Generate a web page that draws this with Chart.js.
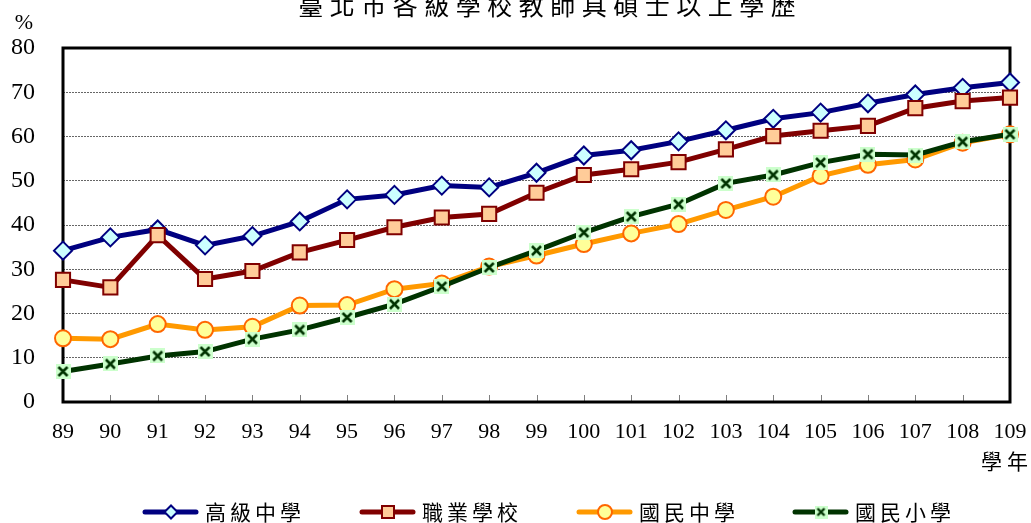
<!DOCTYPE html>
<html>
<head>
<meta charset="utf-8">
<script src="https://cdn.jsdelivr.net/npm/chart.js@4/dist/chart.umd.min.js"></script>
<style>
  html, body { margin: 0; padding: 0; background: #fff; }
  #wrap { width: 1031px; height: 523px; position: relative; }
</style>
</head>
<body>
<div id="wrap"><canvas id="c" width="1031" height="523"></canvas></div>
<script>
// 資料
const years = ['89','90','91','92','93','94','95','96','97','98','99','100','101','102','103','104','105','106','107','108','109'];
const seniorHigh = [34.2, 37.2, 39.0, 35.4, 37.5, 40.8, 45.8, 46.8, 48.9, 48.5, 51.8, 55.7, 56.9, 58.9, 61.4, 64.0, 65.4, 67.5, 69.5, 71.0, 72.2];
const vocational = [27.6, 25.9, 37.7, 27.8, 29.6, 33.8, 36.6, 39.5, 41.7, 42.5, 47.3, 51.3, 52.6, 54.2, 57.1, 60.1, 61.3, 62.4, 66.4, 68.0, 68.8];
const juniorHigh = [14.4, 14.2, 17.6, 16.3, 17.0, 21.8, 21.9, 25.5, 26.8, 30.6, 33.1, 35.7, 38.1, 40.2, 43.4, 46.4, 51.1, 53.6, 54.8, 58.6, 60.5];
const elementary = [6.9, 8.6, 10.4, 11.4, 14.2, 16.3, 19.1, 22.1, 26.1, 30.4, 34.2, 38.3, 41.9, 44.7, 49.4, 51.3, 54.1, 56.0, 55.8, 58.8, 60.5];
const seriesNames = ['高級中學', '職業學校', '國民中學', '國民小學'];
const yTicks = [0, 10, 20, 30, 40, 50, 60, 70, 80];

const titleText = '臺北市各級學校教師具碩士以上學歷';
const serif = '"Liberation Serif", "DejaVu Serif", serif';
const cjk = '"Noto Sans CJK TC", "Noto Sans CJK SC", sans-serif';

// 國民小學 標記：淺綠方塊加 X
function makeCrossBox(size, lw) {
    const cv = document.createElement('canvas');
    cv.width = size; cv.height = size;
    const g = cv.getContext('2d');
    g.fillStyle = '#ccffcc';
    g.fillRect(0, 0, size, size);
    g.strokeStyle = '#003300';
    g.lineWidth = lw;
    g.beginPath();
    g.moveTo(3, 3); g.lineTo(size - 3, size - 3);
    g.moveTo(size - 3, 3); g.lineTo(3, size - 3);
    g.stroke();
    return cv;
}
const crossBox = makeCrossBox(15, 2.6);
const crossBoxSmall = makeCrossBox(13, 2.4);

// 逐字繪製 (字距)
function spacedText(ctx, text, x, y, spacing) {
    let cx = x;
    for (const ch of text) {
        ctx.fillText(ch, cx, y);
        cx += ctx.measureText(ch).width + spacing;
    }
    return cx;
}
function spacedWidth(ctx, text, spacing) {
    let w = 0;
    for (const ch of text) w += ctx.measureText(ch).width + spacing;
    return w - spacing;
}

const decorPlugin = {
    id: 'decor',
    beforeDatasetsDraw(chart) {
        const { ctx, chartArea: a, scales } = chart;
        ctx.save();
        // x 軸內側刻度
        ctx.strokeStyle = '#808080';
        ctx.lineWidth = 1;
        years.forEach((y, i) => {
            const px = Math.round(scales.x.getPixelForValue(i)) + 0.5;
            ctx.beginPath();
            ctx.moveTo(px, a.bottom);
            ctx.lineTo(px, a.bottom - 7);
            ctx.stroke();
        });
        // 外框
        ctx.strokeStyle = '#000';
        ctx.lineWidth = 3;
        ctx.strokeRect(a.left, a.top, a.right - a.left, a.bottom - a.top);
        ctx.restore();
    },
    afterDraw(chart) {
        const { ctx } = chart;
        ctx.save();
        ctx.fillStyle = '#000';
        ctx.textBaseline = 'middle';

        // 標題
        ctx.font = '25px ' + cjk;
        ctx.textAlign = 'left';
        const tw = spacedWidth(ctx, titleText, 6.5);
        spacedText(ctx, titleText, 547 - tw / 2, 5, 6.5);

        // 單位
        ctx.font = '22px ' + serif;
        ctx.textAlign = 'center';
        ctx.fillText('%', 24, 23);

        // 學年
        ctx.font = '21px ' + cjk;
        ctx.textAlign = 'left';
        spacedText(ctx, '學年', 981, 461, 5);

        // 圖例
        const legendX = [143, 360, 577, 793];
        const ly = 512;
        chart.data.datasets.forEach((ds, i) => {
            const x0 = legendX[i];
            ctx.strokeStyle = ds.borderColor;
            ctx.lineWidth = 5;
            ctx.lineCap = 'round';
            ctx.beginPath();
            ctx.moveTo(x0 + 2, ly);
            ctx.lineTo(x0 + 53, ly);
            ctx.stroke();
            const mx = x0 + 28;
            const opts = {
                pointStyle: ds.pointStyle === crossBox ? crossBoxSmall : ds.pointStyle,
                radius: ds.pointStyle === 'rect' ? 8.5 : ds.pointStyle === 'rectRot' ? 6.5 : 7,
                rotation: 0,
                borderWidth: 2
            };
            ctx.fillStyle = ds.pointBackgroundColor;
            ctx.strokeStyle = ds.pointBorderColor;
            ctx.lineWidth = 2;
            Chart.helpers.drawPoint(ctx, opts, mx, ly);
            ctx.fillStyle = '#000';
            ctx.font = '21px ' + cjk;
            ctx.textAlign = 'left';
            spacedText(ctx, seriesNames[i], x0 + 62, ly, 4);
        });
        ctx.restore();
    }
};

const ctx = document.getElementById('c').getContext('2d');
new Chart(ctx, {
    type: 'line',
    data: {
        labels: years,
        datasets: [
            {
                label: seriesNames[0],
                data: seniorHigh,
                borderColor: '#000080',
                backgroundColor: '#000080',
                borderWidth: 5,
                pointStyle: 'rectRot',
                pointRadius: 9,
                pointBackgroundColor: '#ccffff',
                pointBorderColor: '#000080',
                pointBorderWidth: 2,
                order: 3
            },
            {
                label: seriesNames[1],
                data: vocational,
                borderColor: '#800000',
                backgroundColor: '#800000',
                borderWidth: 5,
                pointStyle: 'rect',
                pointRadius: 10,
                pointBackgroundColor: '#ffcc99',
                pointBorderColor: '#800000',
                pointBorderWidth: 2,
                order: 2
            },
            {
                label: seriesNames[2],
                data: juniorHigh,
                borderColor: '#ff9900',
                backgroundColor: '#ff9900',
                borderWidth: 5,
                pointStyle: 'circle',
                pointRadius: 8,
                pointBackgroundColor: '#ffff99',
                pointBorderColor: '#ff6600',
                pointBorderWidth: 2,
                order: 1
            },
            {
                label: seriesNames[3],
                data: elementary,
                borderColor: '#003300',
                backgroundColor: '#003300',
                borderWidth: 5,
                pointStyle: crossBox,
                pointRadius: 7,
                pointBackgroundColor: '#ccffcc',
                pointBorderColor: '#003300',
                pointBorderWidth: 2,
                order: 0
            }
        ]
    },
    options: {
        responsive: false,
        animation: false,
        clip: false,
        layout: { padding: { top: 48, right: 21, bottom: 0, left: 0 } },
        elements: { line: { tension: 0 } },
        plugins: {
            legend: { display: false },
            title: { display: false },
            tooltip: { enabled: false }
        },
        scales: {
            x: {
                type: 'category',
                offset: false,
                grid: { display: false, drawTicks: false },
                border: { display: false },
                ticks: {
                    color: '#000',
                    font: { family: serif, size: 22 },
                    padding: 17,
                    maxRotation: 0,
                    autoSkip: false
                },
                afterFit(s) {
                    s.height = 121;
                    s.paddingLeft = 0;
                    s.paddingRight = 0;
                }
            },
            y: {
                min: 0,
                max: 80,
                afterBuildTicks(s) { s.ticks = yTicks.map(v => ({ value: v })); },
                grid: {
                    drawTicks: false,
                    color: ctx => (ctx.tick && (ctx.tick.value === 0 || ctx.tick.value === 80)) ? 'rgba(0,0,0,0)' : '#666',
                    lineWidth: 1
                },
                border: { display: false, dash: [2, 1] },
                ticks: {
                    color: '#000',
                    font: { family: serif, size: 24 },
                    padding: 28
                },
                afterFit(s) { s.width = 63; }
            }
        }
    },
    plugins: [decorPlugin]
});
</script>
</body>
</html>
